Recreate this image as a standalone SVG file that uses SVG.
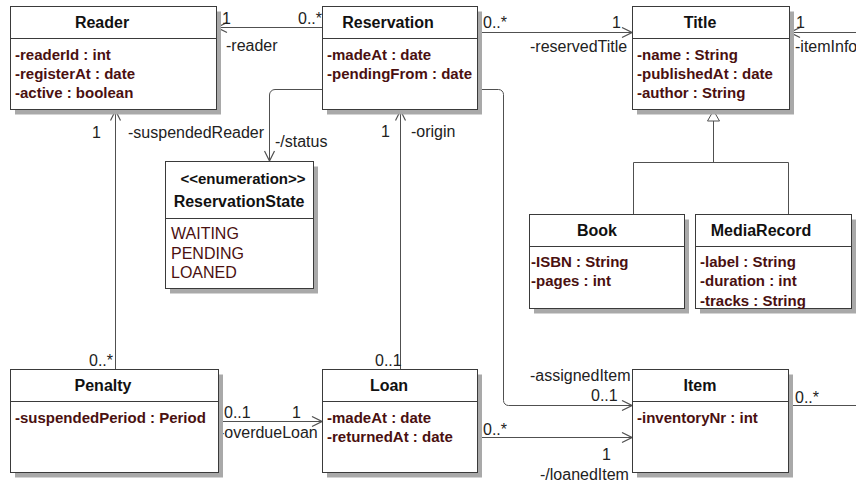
<svg xmlns="http://www.w3.org/2000/svg" width="856" height="482" viewBox="0 0 856 482">
<style>
.box{fill:#fff;stroke:#3a3a3a;stroke-width:1}
.sh{fill:#a9a9a9}
.dv{stroke:#3a3a3a;stroke-width:1}
.tt{font-family:"Liberation Sans",Arial,sans-serif;font-weight:bold;font-size:16px;fill:#111;text-anchor:middle}
.at{font-family:"Liberation Sans",Arial,sans-serif;font-weight:bold;font-size:15px;fill:#4a1010}
.lit{font-family:"Liberation Sans",Arial,sans-serif;font-size:16px;fill:#4a1010}
.lb{font-family:"Liberation Sans",Arial,sans-serif;font-size:16px;fill:#222}
.ln{fill:none;stroke:#505050;stroke-width:1}
</style>
<defs>
<marker id="arr" markerUnits="userSpaceOnUse" markerWidth="12" markerHeight="12" refX="10" refY="5" orient="auto" viewBox="-1 -1 12 12">
<path d="M0,0 L10,5 L0,10" fill="none" stroke="#505050" stroke-width="1.2"/>
</marker>
</defs>
<rect width="856" height="482" fill="#fff"/>

<g id="connectors">
<path class="ln" d="M322 27.5 H217" marker-end="url(#arr)"/>
<path class="ln" d="M478 32.5 H632" marker-end="url(#arr)"/>
<path class="ln" d="M856 32.5 H790" marker-end="url(#arr)"/>
<path class="ln" d="M713.5 121 V162.5 M633.5 162.5 H788.5 M633.5 162.5 V214 M788.5 162.5 V214"/>
<path d="M713.5 110.5 L707.5 121 L719.5 121 Z" fill="#fff" stroke="#505050" stroke-width="1"/>
<path class="ln" d="M115.5 369 V110.5" marker-end="url(#arr)"/>
<path class="ln" d="M322 89.5 H275 A5.5 5.5 0 0 0 269.5 95 V161" marker-end="url(#arr)"/>
<path class="ln" d="M400.5 369 V110.5" marker-end="url(#arr)"/>
<path class="ln" d="M478 89.5 H498.5 A5 5 0 0 1 503.5 94.5 V400.5 A5 5 0 0 0 508.5 405.5 H632" marker-end="url(#arr)"/>
<path class="ln" d="M478 437.5 H632" marker-end="url(#arr)"/>
<path class="ln" d="M219 421.5 H322" marker-end="url(#arr)"/>
<path class="ln" d="M789 405.5 H856"/>
<text class="lb" x="222" y="24">1</text>
<text class="lb" x="298" y="24">0..*</text>
<text class="lb" x="226" y="51">-reader</text>
<text class="lb" x="483" y="28">0..*</text>
<text class="lb" x="612" y="28">1</text>
<text class="lb" x="530" y="52">-reservedTitle</text>
<text class="lb" x="796" y="28">1</text>
<text class="lb" x="795" y="52">-itemInfo</text>
<text class="lb" x="92" y="138">1</text>
<text class="lb" x="128" y="138">-suspendedReader</text>
<text class="lb" x="275" y="147">-/status</text>
<text class="lb" x="381" y="137">1</text>
<text class="lb" x="411" y="137">-origin</text>
<text class="lb" x="89" y="366">0..*</text>
<text class="lb" x="375" y="366">0..1</text>
<text class="lb" x="224" y="418">0..1</text>
<text class="lb" x="292" y="418">1</text>
<text class="lb" x="219" y="438">-overdueLoan</text>
<text class="lb" x="530" y="381">-assignedItem</text>
<text class="lb" x="591" y="401">0..1</text>
<text class="lb" x="483" y="435">0..*</text>
<text class="lb" x="602" y="460">1</text>
<text class="lb" x="540" y="480">-/loanedItem</text>
<text class="lb" x="795" y="403">0..*</text>
</g>

<g id="Reader">
<rect class="sh" x="15" y="11.5" width="206" height="103"/>
<rect class="box" x="10.5" y="6.5" width="206" height="103"/>
<line class="dv" x1="10.5" y1="38.5" x2="216.5" y2="38.5"/>
<text class="tt" x="102" y="28">Reader</text>
<text class="at" x="15" y="60">-readerId : int</text>
<text class="at" x="15" y="79">-registerAt : date</text>
<text class="at" x="15" y="98">-active : boolean</text>
</g>

<g id="Reservation">
<rect class="sh" x="327" y="11.5" width="155" height="103"/>
<rect class="box" x="322.5" y="6.5" width="155" height="103"/>
<line class="dv" x1="322.5" y1="38.5" x2="477.5" y2="38.5"/>
<text class="tt" x="388" y="28">Reservation</text>
<text class="at" x="327" y="60">-madeAt : date</text>
<text class="at" x="327" y="79">-pendingFrom : date</text>
</g>

<g id="Title">
<rect class="sh" x="637" y="11.5" width="157" height="103"/>
<rect class="box" x="632.5" y="6.5" width="157" height="103"/>
<line class="dv" x1="632.5" y1="38.5" x2="789.5" y2="38.5"/>
<text class="tt" x="700" y="28">Title</text>
<text class="at" x="637" y="60">-name : String</text>
<text class="at" x="637" y="79">-publishedAt : date</text>
<text class="at" x="637" y="98">-author : String</text>
</g>

<g id="ReservationState">
<rect class="sh" x="170" y="166.5" width="148" height="127"/>
<rect class="box" x="165.5" y="161.5" width="148" height="127"/>
<line class="dv" x1="165.5" y1="218.5" x2="313.5" y2="218.5"/>
<text class="tt" x="243" y="184" style="font-size:15px">&lt;&lt;enumeration&gt;&gt;</text>
<text class="tt" x="239" y="207">ReservationState</text>
<text class="lit" x="171" y="239">WAITING</text>
<text class="lit" x="171" y="259">PENDING</text>
<text class="lit" x="171" y="278">LOANED</text>
</g>

<g id="Book">
<rect class="sh" x="534" y="219.5" width="155" height="94"/>
<rect class="box" x="529.5" y="214.5" width="155" height="94"/>
<line class="dv" x1="529.5" y1="246.5" x2="684.5" y2="246.5"/>
<text class="tt" x="597" y="236">Book</text>
<text class="at" x="531" y="267">-ISBN : String</text>
<text class="at" x="531" y="286">-pages : int</text>
</g>

<g id="MediaRecord">
<rect class="sh" x="700" y="219.5" width="156" height="94"/>
<rect class="box" x="695.5" y="214.5" width="156" height="94"/>
<line class="dv" x1="695.5" y1="246.5" x2="851.5" y2="246.5"/>
<text class="tt" x="761" y="236">MediaRecord</text>
<text class="at" x="700" y="267">-label : String</text>
<text class="at" x="700" y="286">-duration : int</text>
<text class="at" x="700" y="306">-tracks : String</text>
</g>

<g id="Penalty">
<rect class="sh" x="15" y="374.5" width="208" height="103"/>
<rect class="box" x="10.5" y="369.5" width="208" height="103"/>
<line class="dv" x1="10.5" y1="401.5" x2="218.5" y2="401.5"/>
<text class="tt" x="103" y="391">Penalty</text>
<text class="at" x="15" y="423">-suspendedPeriod : Period</text>
</g>

<g id="Loan">
<rect class="sh" x="327" y="374.5" width="155" height="103"/>
<rect class="box" x="322.5" y="369.5" width="155" height="103"/>
<line class="dv" x1="322.5" y1="401.5" x2="477.5" y2="401.5"/>
<text class="tt" x="389" y="391">Loan</text>
<text class="at" x="327" y="423">-madeAt : date</text>
<text class="at" x="327" y="442">-returnedAt : date</text>
</g>

<g id="Item">
<rect class="sh" x="637" y="374.5" width="156" height="103"/>
<rect class="box" x="632.5" y="369.5" width="156" height="103"/>
<line class="dv" x1="632.5" y1="401.5" x2="788.5" y2="401.5"/>
<text class="tt" x="700" y="391">Item</text>
<text class="at" x="637" y="423">-inventoryNr : int</text>
</g>
</svg>
